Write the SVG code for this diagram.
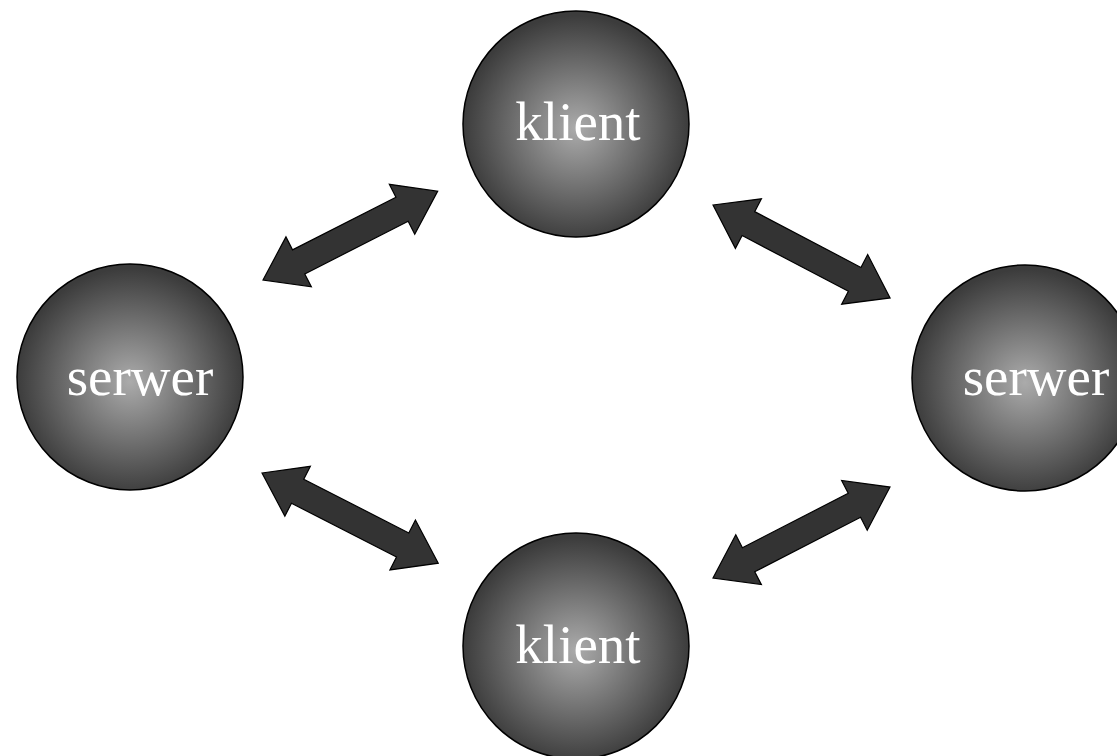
<svg xmlns="http://www.w3.org/2000/svg" width="1117" height="756" viewBox="0 0 1117 756">
<defs>
<radialGradient id="g" cx="50%" cy="52%" r="50%">
<stop offset="0" stop-color="#ababab"/>
<stop offset="1" stop-color="#3c3c3c"/>
</radialGradient>
<path id="arr" d="M0,0 L40,-28 L40,-13.5 L-40,-13.5 L-40,-28 L0,0 Z"/>
</defs>
<style>
.node circle{fill:url(#g);stroke:#000;stroke-width:1.5}
.node text{font-family:"Liberation Serif","Times New Roman",serif;font-size:55px;fill:#fff;text-anchor:middle}
.arrow{fill:#333;stroke:#000;stroke-width:1.2;stroke-linejoin:miter}
</style>
<rect width="1117" height="756" fill="#fff"/>
<g id="connectors">
<path class="arrow" transform="translate(263,280) rotate(-26.96)" d="M0,0 L40,-28 L40,-13.5 L156,-13.5 L156,-28 L196,0 L156,28 L156,13.5 L40,13.5 L40,28 Z"/>
<path class="arrow" transform="translate(713,205) rotate(27.7)" d="M0,0 L40,-28 L40,-13.5 L160,-13.5 L160,-28 L200,0 L160,28 L160,13.5 L40,13.5 L40,28 Z"/>
<path class="arrow" transform="translate(262,473) rotate(27.1)" d="M0,0 L40,-28 L40,-13.5 L158,-13.5 L158,-28 L198,0 L158,28 L158,13.5 L40,13.5 L40,28 Z"/>
<path class="arrow" transform="translate(713,578) rotate(-27.2)" d="M0,0 L40,-28 L40,-13.5 L159,-13.5 L159,-28 L199,0 L159,28 L159,13.5 L40,13.5 L40,28 Z"/>
</g>
<g id="klient-top" class="node">
<circle cx="576" cy="124" r="113"/>
<text x="578" y="140">klient</text>
</g>
<g id="serwer-left" class="node">
<circle cx="130" cy="377" r="113"/>
<text x="140" y="395">serwer</text>
</g>
<g id="serwer-right" class="node">
<circle cx="1025" cy="378" r="113"/>
<text x="1036" y="395">serwer</text>
</g>
<g id="klient-bottom" class="node">
<circle cx="576" cy="646" r="113"/>
<text x="578" y="663">klient</text>
</g>
</svg>
